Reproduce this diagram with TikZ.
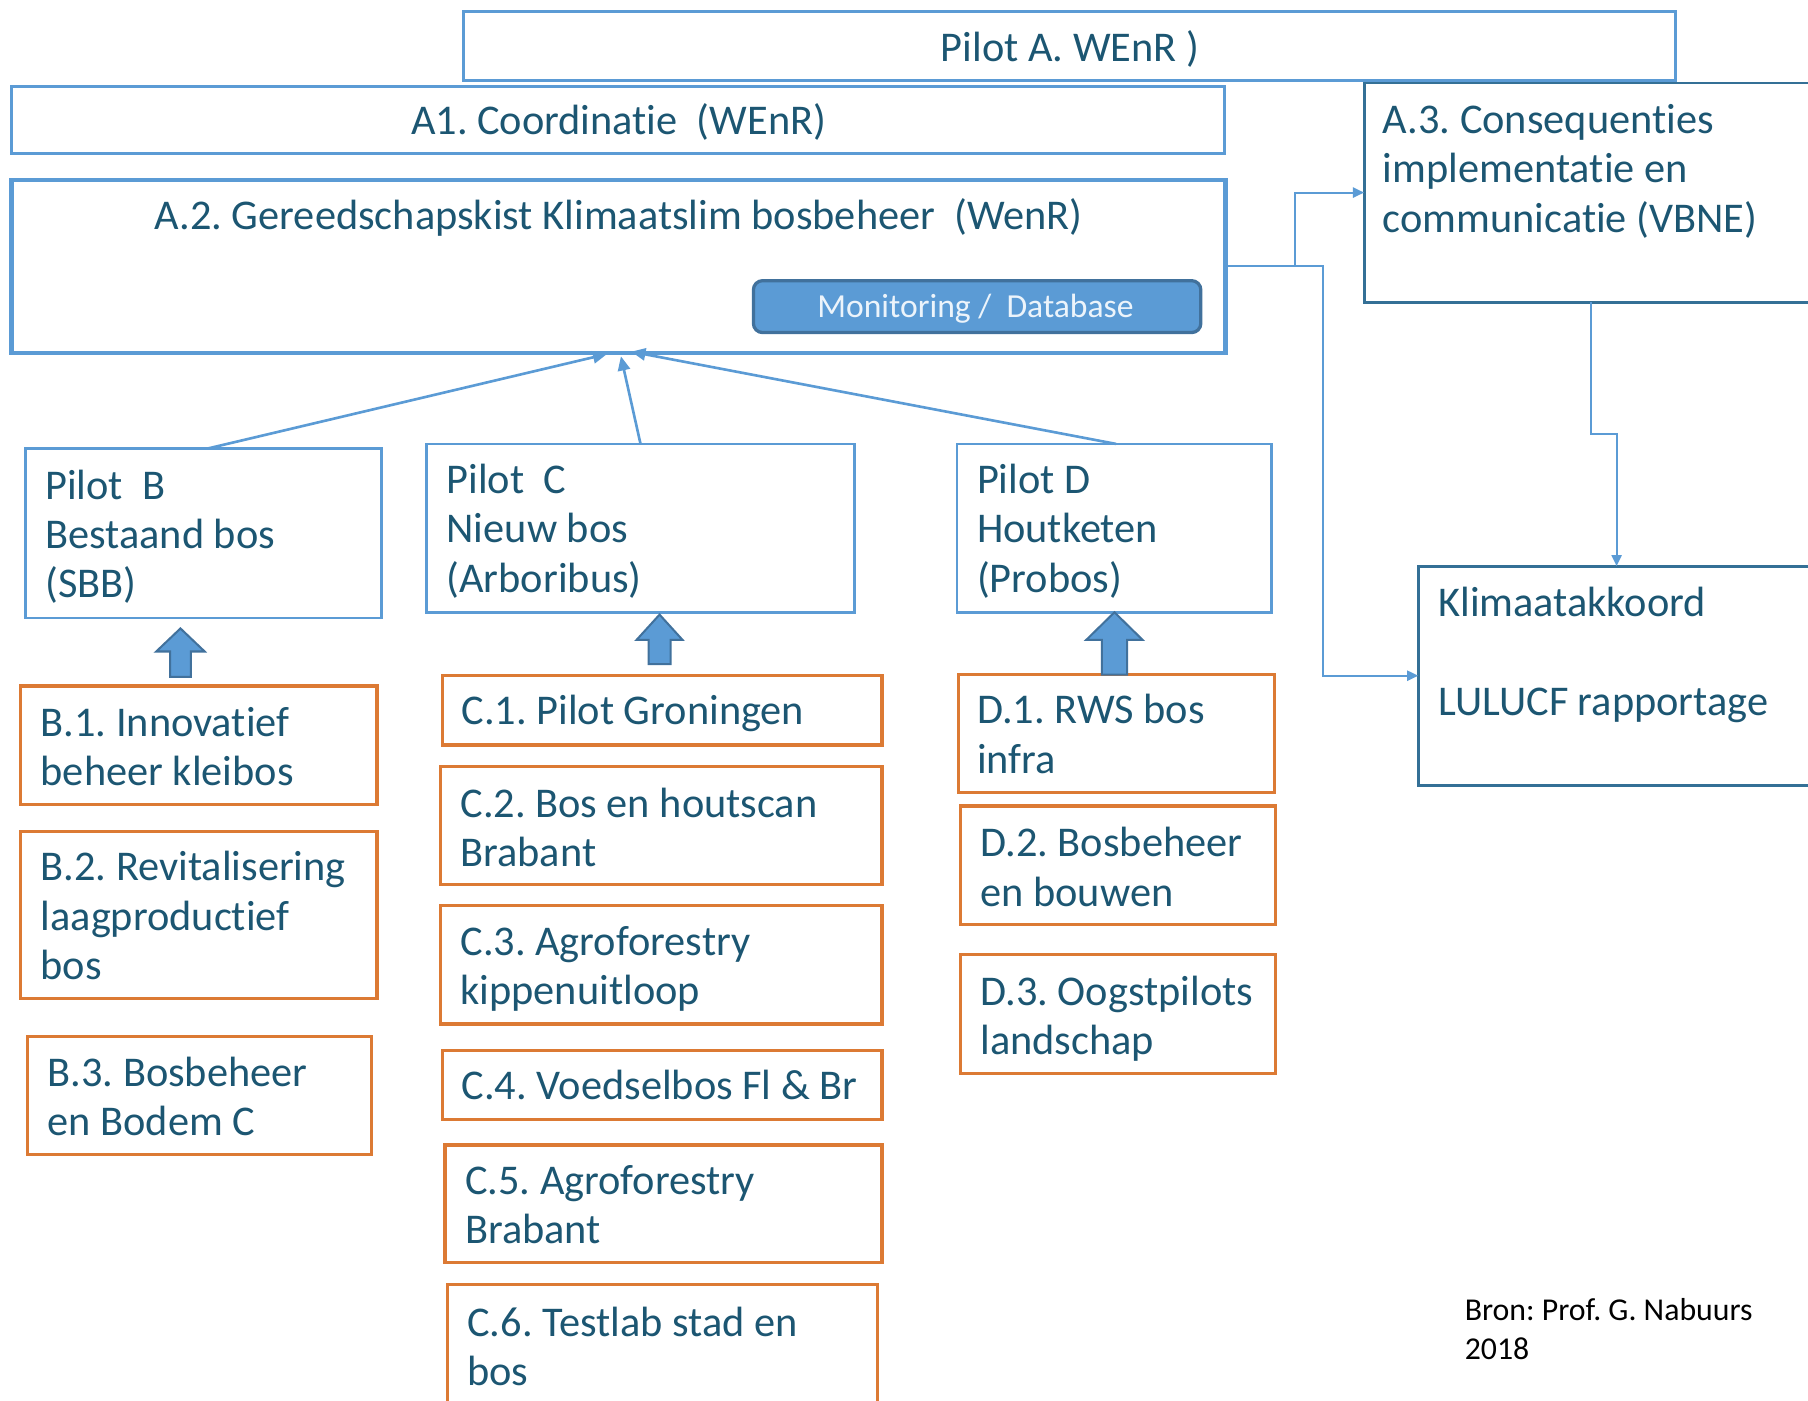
\documentclass[tikz,border=0pt]{standalone}
\usepackage{fontspec}
\setmainfont{Carlito}[Ligatures=NoCommon]
\usetikzlibrary{arrows.meta}
\frenchspacing
\definecolor{lb}{RGB}{91,155,213}
\definecolor{db}{RGB}{52,112,150}
\definecolor{edgeb}{RGB}{65,113,156}
\definecolor{orng}{RGB}{220,122,52}
\definecolor{tc}{RGB}{28,86,114}
\definecolor{wt}{RGB}{236,244,251}
\newcommand\mainfont{\fontsize{20.9}{24.4}\selectfont\frenchspacing}
\newcommand\bx[6]{\node[#1, minimum width={(#4-#2)*0.02cm}, minimum height={(#5-#3)*0.02cm}] (#6) at (#2,#3) {};}
\newcommand\fatarrow[6]{\draw[fatarr] (#1-#4,#2) -- (#1-#4,#6) -- (#1-#5,#6) -- (#1,#3) -- (#1+#5,#6) -- (#1+#4,#6) -- (#1+#4,#2) -- cycle;}
\tikzset{
  boxbase/.style={rectangle, inner sep=0pt, outer sep=0pt, anchor=north west},
  bluebox/.style={boxbase, draw=lb, line width=1.4pt},
  thickblue/.style={boxbase, draw=lb, line width=2.2pt},
  darkbox/.style={boxbase, draw=db, line width=1.4pt},
  orbox/.style={boxbase, draw=orng, line width=1.6pt},
  ltxt/.style={inner sep=0pt, anchor=north west, align=left, font=\mainfont, text=tc, execute at begin node=\strut},
  ctxt/.style={inner sep=0pt, anchor=base, font=\mainfont, text=tc},
  pline/.style={draw=lb, line width=1.3pt, -{Triangle[length=7pt,width=6pt]}},
  conn/.style={draw=lb, line width=1pt, -{Triangle[length=5.5pt,width=5pt]}},
  fatarr/.style={fill=lb, draw=edgeb, line width=1pt, line join=miter},
}
\begin{document}
\begin{tikzpicture}[x=0.02cm, y=-0.02cm]
\useasboundingbox (0,0) rectangle (1568,1215);
\clip (0,0) rectangle (1568,1215);

% top boxes
\bx{bluebox}{402}{10}{1453}{70}{pa}
\node[ctxt] (tpa) at (928,53) {Pilot A. WEnR )};
\bx{bluebox}{10}{75}{1062}{133}{a1}
\node[ctxt] (ta1) at (536.5,117) {A1. Coordinatie\ \ (WEnR)};
\bx{thickblue}{10}{156}{1063}{306}{a2}
\node[ctxt] (ta2) at (536.5,199) {A.2. Gereedschapskist Klimaatslim bosbeheer\ \ (WenR)};
\node[rectangle, rounded corners=4.5pt, fill=lb, draw=edgeb, line width=1.6pt, minimum width={388*0.02cm}, minimum height={45*0.02cm}, anchor=north west, inner sep=0pt] (mon) at (652,242) {};
\node[inner sep=0pt, anchor=base, font=\fontsize{16.6}{19}\selectfont, text=wt] (tmon) at (846,275) {Monitoring /\ \ Database};

\bx{darkbox}{1183}{72}{1577}{262}{a3}
\node[ltxt] (ta3) at (1199,90) {A.3. Consequenties\\implementatie en\\communicatie (VBNE)};
\bx{darkbox}{1230}{491}{1574}{681}{kl}
\node[ltxt] (tkl) at (1247,509) {Klimaatakkoord\\[24.4pt]LULUCF rapportage};

% pilots
\bx{bluebox}{22}{389}{331}{536}{pb}
\node[ltxt] (tpb) at (39,407) {Pilot\ \ B\\Bestaand bos\\(SBB)};
\bx{bluebox}{370}{385}{741}{531}{pc}
\node[ltxt] (tpc) at (387,402) {Pilot\ \ C\\Nieuw bos\\(Arboribus)};
\bx{bluebox}{830}{385}{1103}{531}{pd}
\node[ltxt] (tpd) at (847,402) {Pilot D\\Houtketen\\(Probos)};

% B column
\bx{orbox}{18}{595}{327}{698}{b1}
\node[ltxt] (tb1) at (35,613) {B.1. Innovatief\\beheer kleibos};
\bx{orbox}{18}{721}{327}{866}{b2}
\node[ltxt] (tb2) at (35,738) {B.2. Revitalisering\\laagproductief\\bos};
\bx{orbox}{24}{899}{322}{1001}{b3}
\node[ltxt] (tb3) at (41,916) {B.3. Bosbeheer\\en Bodem C};

% C column
\bx{orbox}{384}{586}{765}{646}{c1}
\node[ltxt] (tc1) at (400,598) {C.1. Pilot Groningen};
\bx{orbox}{382}{665}{765}{767}{c2}
\node[ltxt] (tc2) at (399,683) {C.2. Bos en houtscan\\Brabant};
\bx{orbox}{382}{785}{765}{888}{c3}
\node[ltxt] (tc3) at (399,803) {C.3. Agroforestry\\kippenuitloop};
\bx{orbox}{384}{911}{765}{971}{c4}
\node[ltxt] (tc4) at (400,923) {C.4. Voedselbos Fl \& Br};
\bx{orbox}{386}{993}{765}{1095}{c5}
\node[ltxt] (tc5) at (403,1010) {C.5. Agroforestry\\Brabant};
\bx{orbox}{388}{1114}{761}{1240}{c6}
\node[ltxt] (tc6) at (405,1133) {C.6. Testlab stad en\\bos};

% D column
\bx{orbox}{831}{585}{1105}{687}{d1}
\node[ltxt] (td1) at (847,602) {D.1. RWS bos\\infra};
\bx{orbox}{833}{699}{1106}{802}{d2}
\node[ltxt] (td2) at (850,717) {D.2. Bosbeheer\\en bouwen};
\bx{orbox}{833}{828}{1106}{931}{d3}
\node[ltxt] (td3) at (850,846) {D.3. Oogstpilots\\landschap};

% source
\node[inner sep=0pt, anchor=north west, align=left, font=\fontsize{15.7}{19.3}\selectfont\frenchspacing, text=black, execute at begin node=\strut] (bron) at (1270,1126) {Bron: Prof. G. Nabuurs\\2018};

% connectors pilots -> A.2
\coordinate (tipb) at ([shift={(-10,1)}]a2.south);
\coordinate (tipc) at ([shift={(2,3)}]a2.south);
\coordinate (tipd) at ([shift={(11,-1)}]a2.south);
\draw[pline] ([xshift={3.5*0.02cm}]pb.north) -- (tipb);
\draw[pline] (pc.north) -- (tipc);
\draw[pline] ([xshift={1.5*0.02cm}]pd.north) -- (tipd);

% right-hand connectors
\draw[conn] (a2.east) -- ++(60,0) |- (a3.west);
\draw[conn] (a2.east) -- ++(84,0) |- (kl.west);
\draw[conn] (a3.south) -- ++(0,114) -| (kl.north);

% block arrows
\fatarrow{156.5}{587}{545}{9}{21}{565}
\fatarrow{572}{576}{533}{9.5}{20}{555}
\fatarrow{966.5}{585}{531}{11}{24.5}{555}
\end{tikzpicture}
\end{document}
